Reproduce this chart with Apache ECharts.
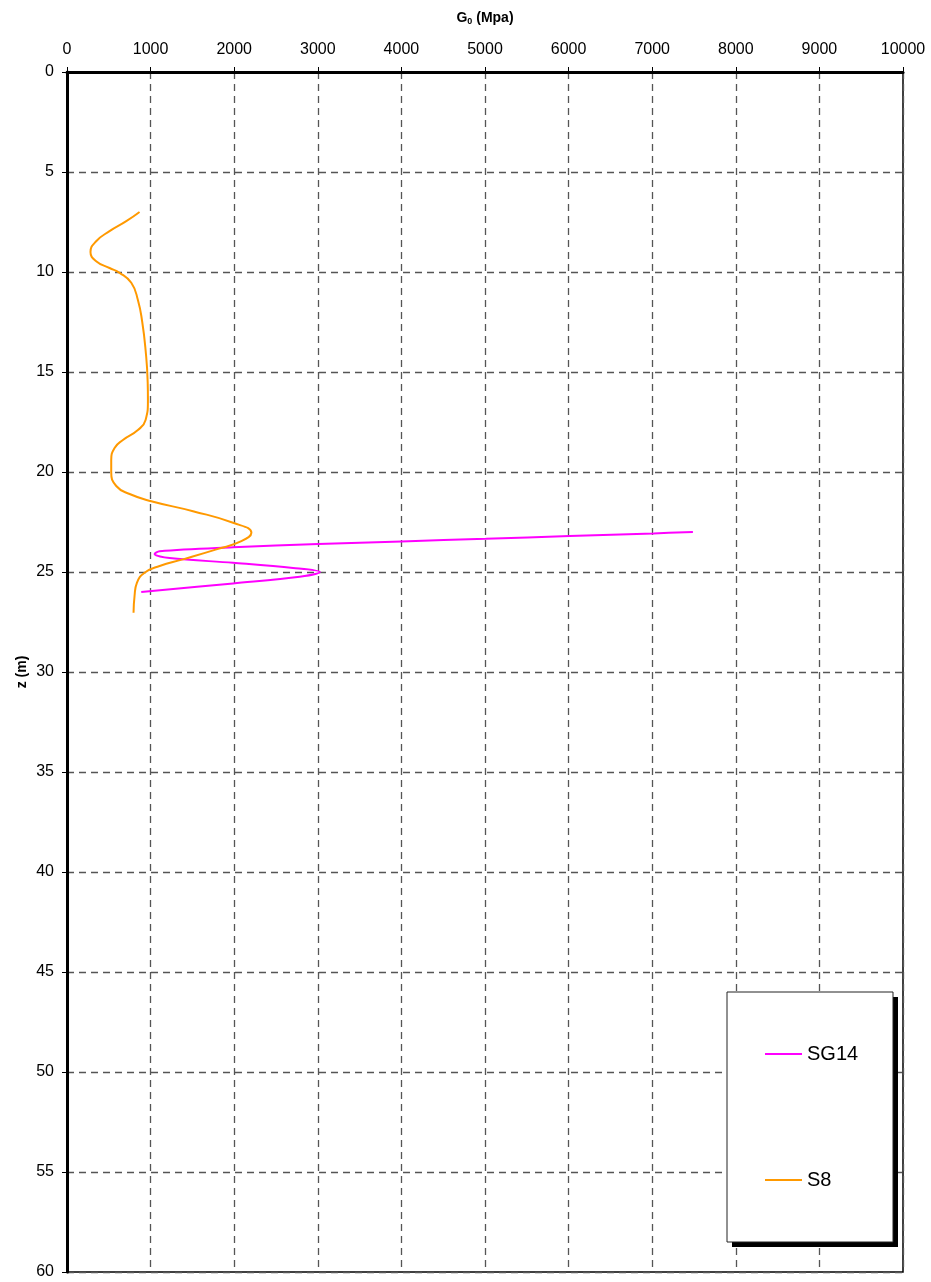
<!DOCTYPE html>
<html>
<head>
<meta charset="utf-8">
<script src="https://cdn.jsdelivr.net/npm/echarts@6/dist/echarts.min.js"></script>
<style>html,body{margin:0;padding:0;background:#fff}#c{width:931px;height:1282px}</style>
</head>
<body>
<div id="c"></div>
<script>
// Data: [G0 (MPa), z (m)]
var seriesNames = ['SG14', 'S8'];
var sg14 = [[7487,23.0],[7016,23.07],[6010,23.2],[5008,23.34],[4002,23.47],[3004,23.6],[1986,23.76],[1108,23.96],[1048,24.1],[1228,24.3],[1986,24.54],[2704,24.8],[3024,25.0],[2784,25.24],[1986,25.57],[888,26.0]];
var s8 = [[868,7.0],[709,7.46],[509,7.96],[349,8.46],[281,9.0],[349,9.46],[509,9.8],[629,10.04],[769,10.54],[848,11.4],[900,12.5],[940,13.9],[965,15.5],[968,16.4],[940,17.4],[848,17.9],[669,18.4],[569,18.8],[529,19.4],[529,20.0],[589,20.7],[749,21.1],[1008,21.46],[1507,21.96],[1986,22.54],[2206,23.04],[2086,23.46],[1787,23.87],[1387,24.37],[1108,24.7],[928,25.04],[836,25.54],[808,26.2],[796,27.04]];
var xTicks = {min:0, max:10000, interval:1000};
var yTicks = {min:0, max:60, interval:5};

var FONT = 'Liberation Sans, Arial, sans-serif';
var chart = echarts.init(document.getElementById('c'));
var split = {show:true, lineStyle:{color:'#555', width:1.3, type:[7,5]}};
function plain(v){ return String(v); }
chart.setOption({
  animation:false,
  textStyle:{fontFamily:FONT},
  grid:{left:67, right:28, top:72, bottom:10, show:true, borderColor:'#000', borderWidth:1.5, backgroundColor:'transparent'},
  xAxis:{
    type:'value', position:'top', min:xTicks.min, max:xTicks.max, interval:xTicks.interval,
    name:'{b|G}{s|0}{b| (Mpa)}', nameLocation:'middle', nameGap:46,
    nameTextStyle:{rich:{b:{fontSize:14, fontWeight:'bold', color:'#000', fontFamily:FONT}, s:{fontSize:9, fontWeight:'bold', color:'#000', verticalAlign:'bottom', padding:[6,0,0,0], fontFamily:FONT}}},
    axisLine:{show:true, onZero:false, lineStyle:{color:'#000', width:3}},
    axisTick:{show:true, length:5, lineStyle:{color:'#000', width:1}},
    axisLabel:{fontSize:16, color:'#000', margin:14, fontFamily:FONT, formatter:plain},
    splitLine:split
  },
  yAxis:{
    type:'value', inverse:true, min:yTicks.min, max:yTicks.max, interval:yTicks.interval,
    name:'z (m)', nameLocation:'middle', nameGap:38, nameRotate:90, nameMoveOverlap:false,
    nameTextStyle:{fontSize:14, fontWeight:'bold', color:'#000', fontFamily:FONT},
    axisLine:{show:true, onZero:false, lineStyle:{color:'#000', width:3}},
    axisTick:{show:true, length:5, lineStyle:{color:'#000', width:1}},
    axisLabel:{fontSize:16, color:'#000', margin:13, fontFamily:FONT, formatter:plain},
    splitLine:split
  },
  graphic:[
    {type:'rect', z:50, shape:{x:732, y:997, width:166, height:250}, style:{fill:'#000'}},
    {type:'rect', z:51, shape:{x:727, y:992, width:166, height:250}, style:{fill:'#fff', stroke:'#222', lineWidth:1}}
  ],
  legend:[
    {data:[seriesNames[0]], left:765, top:1044, padding:0, icon:'rect', itemWidth:37, itemHeight:2, itemGap:5, z:60, textStyle:{fontSize:20, color:'#000', fontFamily:FONT}},
    {data:[seriesNames[1]], left:765, top:1170, padding:0, icon:'rect', itemWidth:37, itemHeight:2, itemGap:5, z:60, textStyle:{fontSize:20, color:'#000', fontFamily:FONT}}
  ],
  series:[
    {name:seriesNames[0], type:'line', data:sg14, smooth:0.35, symbol:'none', lineStyle:{color:'#FF00FF', width:2}, itemStyle:{color:'#FF00FF'}},
    {name:seriesNames[1], type:'line', data:s8, smooth:0.5, symbol:'none', lineStyle:{color:'#FF9900', width:2}, itemStyle:{color:'#FF9900'}}
  ]
});
</script>
</body>
</html>
